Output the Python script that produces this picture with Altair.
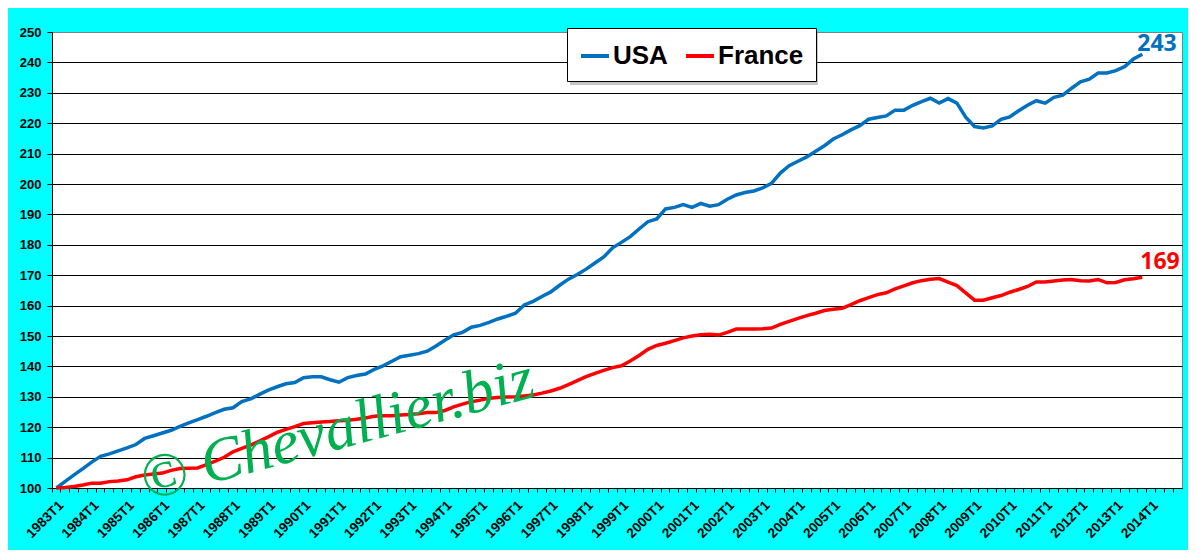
import altair as alt
import pandas as pd

years = list(range(1983, 2015))
quarters = [f"{y}T{q}" for y in years for q in range(1, 5)]

usa = [
    100, 102.2, 104.3, 106.4,      # 1983
    108.5, 110.4, 111.2, 112.2,    # 1984
    113.2, 114.3, 116.3, 117.2,    # 1985
    118.1, 119.0, 120.3, 121.4,    # 1986
    122.5, 123.6, 124.8, 125.9,    # 1987
    126.4, 128.4, 129.3, 130.8,    # 1988
    132.2, 133.3, 134.3, 134.7,    # 1989
    136.3, 136.6, 136.6, 135.6,    # 1990
    134.8, 136.3, 137.0, 137.5,    # 1991
    139.0, 140.2, 141.7, 143.2,    # 1992
    143.7, 144.2, 145.0, 146.7,    # 1993
    148.6, 150.4, 151.2, 152.9,    # 1994
    153.5, 154.5, 155.6, 156.5,    # 1995
    157.5, 160.2, 161.4, 163.0,    # 1996
    164.5, 166.7, 168.7, 170.2,    # 1997
    172.0, 174.0, 176.0, 179.0,    # 1998
    180.8, 182.7, 185.2, 187.6,    # 1999
    188.5, 191.8, 192.3, 193.2,    # 2000
    192.3, 193.6, 192.7, 193.2,    # 2001
    195.0, 196.4, 197.2, 197.7,    # 2002
    198.7, 200.2, 203.6, 206.0,    # 2003
    207.5, 208.9, 210.8, 212.6,    # 2004
    214.8, 216.2, 217.8, 219.2,    # 2005
    221.3, 221.9, 222.4, 224.3,    # 2006
    224.3, 225.9, 227.1, 228.2,    # 2007
    226.6, 228.1, 226.6, 222.0,    # 2008
    218.9, 218.4, 219.1, 221.3,    # 2009
    222.1, 224.1, 225.9, 227.4,    # 2010
    226.6, 228.5, 229.2, 231.5,    # 2011
    233.6, 234.5, 236.5, 236.5,    # 2012
    237.3, 238.6, 241.1, 242.7,    # 2013
]

france = [
    100, 100.2, 100.5, 101.0,      # 1983
    101.6, 101.6, 102.1, 102.3,    # 1984
    102.7, 103.7, 104.3, 104.6,    # 1985
    104.9, 105.8, 106.4, 106.5,    # 1986
    106.6, 107.7, 108.8, 110.1,    # 1987
    111.9, 113.0, 114.1, 115.4,    # 1988
    116.8, 118.3, 119.3, 120.2,    # 1989
    121.2, 121.5, 121.7, 121.9,    # 1990
    122.1, 122.3, 122.6, 123.0,    # 1991
    123.6, 123.8, 123.8, 124.0,    # 1992
    124.2, 124.4, 124.8, 124.8,    # 1993
    125.5, 126.7, 127.6, 128.4,    # 1994
    128.9, 129.5, 129.8, 129.9,    # 1995
    130.0, 130.3, 130.6, 131.2,    # 1996
    131.9, 132.8, 134.0, 135.3,    # 1997
    136.6, 137.7, 138.7, 139.6,    # 1998
    140.2, 141.8, 143.6, 145.6,    # 1999
    146.9, 147.6, 148.5, 149.4,    # 2000
    150.0, 150.4, 150.6, 150.3,    # 2001
    151.2, 152.3, 152.3, 152.3,    # 2002
    152.4, 152.6, 153.8, 154.8,    # 2003
    155.8, 156.7, 157.5, 158.4,    # 2004
    158.8, 159.1, 160.3, 161.6,    # 2005
    162.6, 163.6, 164.2, 165.5,    # 2006
    166.5, 167.5, 168.2, 168.7,    # 2007
    168.9, 167.7, 166.6, 164.2,    # 2008
    161.8, 161.8, 162.6, 163.3,    # 2009
    164.4, 165.3, 166.3, 167.8,    # 2010
    167.8, 168.1, 168.4, 168.6,    # 2011
    168.2, 168.1, 168.6, 167.5,    # 2012
    167.6, 168.5, 168.8, 169.3,    # 2013
]

series_names = ["USA", "France"]
series_colors = ["#0070C0", "#FF0000"]
y_ticks = list(range(100, 251, 10))
watermark_text = "© Chevallier.biz"

n = len(usa)
df = pd.DataFrame({
    "quarter": quarters[:n] * 2,
    "pays": ["USA"] * n + ["France"] * n,
    "indice": usa + france,
})

xenc = alt.X(
    "quarter:O",
    sort=quarters,
    bandPosition=0.5,
    scale=alt.Scale(type="band", domain=quarters, paddingInner=0, paddingOuter=0),
    axis=alt.Axis(
        title=None,
        labelExpr="indexof(datum.value, 'T1') > 0 ? datum.value : ''",
        labelAngle=-45,
        labelAlign="right",
        labelBaseline="top",
        bandPosition=0,
        labelOverlap=False,
        labelFont="Liberation Sans",
        labelFontWeight="bold",
        labelFontSize=13.5,
        labelColor="black",
        labelPadding=6,
        tickSize=4,
        tickColor="black",
        domainColor="black",
        grid=False,
    ),
)

yenc = alt.Y(
    "indice:Q",
    scale=alt.Scale(domain=[100, 250], nice=False, zero=False),
    axis=alt.Axis(
        title=None,
        values=y_ticks,
        tickCount=16,
        labelOverlap=False,
        grid=True,
        gridColor={"condition": {"test": "datum.value >= 250", "value": "#808080"}, "value": "black"},
        gridWidth=1,
        gridOpacity=1,
        domainColor="black",
        tickColor="black",
        tickSize=5,
        labelFont="Liberation Sans",
        labelFontWeight="bold",
        labelFontSize=13,
        labelColor="black",
        labelPadding=6,
    ),
)

lines = alt.Chart(df).mark_line(strokeWidth=3.5).encode(
    x=xenc,
    y=yenc,
    color=alt.Color(
        "pays:N",
        scale=alt.Scale(domain=series_names, range=series_colors),
        legend=alt.Legend(
            orient="none",
            legendX=515,
            legendY=-4,
            direction="horizontal",
            title=None,
            symbolType="stroke",
            symbolStrokeWidth=4,
            symbolSize=784,
            labelFont="Liberation Sans",
            labelFontWeight="bold",
            labelFontSize=26,
            labelColor="black",
            labelOffset=2,
            columnPadding=10,
            padding=12,
            strokeColor="black",
            fillColor="white",
            cornerRadius=0,
            labelLimit=300,
        ),
    ),
)

last_df = pd.DataFrame({
    "quarter": [quarters[n - 1]] * 2,
    "pays": series_names,
    "indice": [usa[-1], france[-1]],
    "txt": [f"{round(usa[-1])}", f"{round(france[-1])}"],
})

lbl_usa = alt.Chart(last_df[last_df.pays == "USA"]).mark_text(
    align="left", baseline="alphabetic", dx=-5, dy=-3,
    font="Open Sans", fontWeight="bold", fontSize=23, color=series_colors[0],
).encode(x=xenc, y=yenc, text="txt:N")

lbl_fr = alt.Chart(last_df[last_df.pays == "France"]).mark_text(
    align="left", baseline="alphabetic", dx=-2, dy=-8,
    font="Open Sans", fontWeight="bold", fontSize=23, color=series_colors[1],
).encode(x=xenc, y=yenc, text="txt:N")

shadow = alt.Chart(pd.DataFrame({"s": [1]})).mark_rect(color="#8c8c8c", opacity=0.5).encode(
    x=alt.value(518), x2=alt.value(766), y=alt.value(-1), y2=alt.value(53)
)

watermark = alt.Chart(pd.DataFrame({"t": [watermark_text]})).mark_text(
    font="Liberation Serif", fontStyle="italic", fontSize=62, color="#00B050",
    angle=345, align="center", baseline="middle",
).encode(x=alt.value(285), y=alt.value(398), text="t:N")

chart = alt.layer(shadow, lines, lbl_usa, lbl_fr, watermark).properties(
    width=1130,
    height=456,
    padding={"left": 44, "top": 24, "right": 6, "bottom": 62},
    autosize=alt.AutoSizeParams(type="none"),
    background="#00FFFF",
).configure_view(fill="white", stroke="#808080", strokeWidth=1)

chart.save("out.html", embed_options={"renderer": "svg", "actions": False})
